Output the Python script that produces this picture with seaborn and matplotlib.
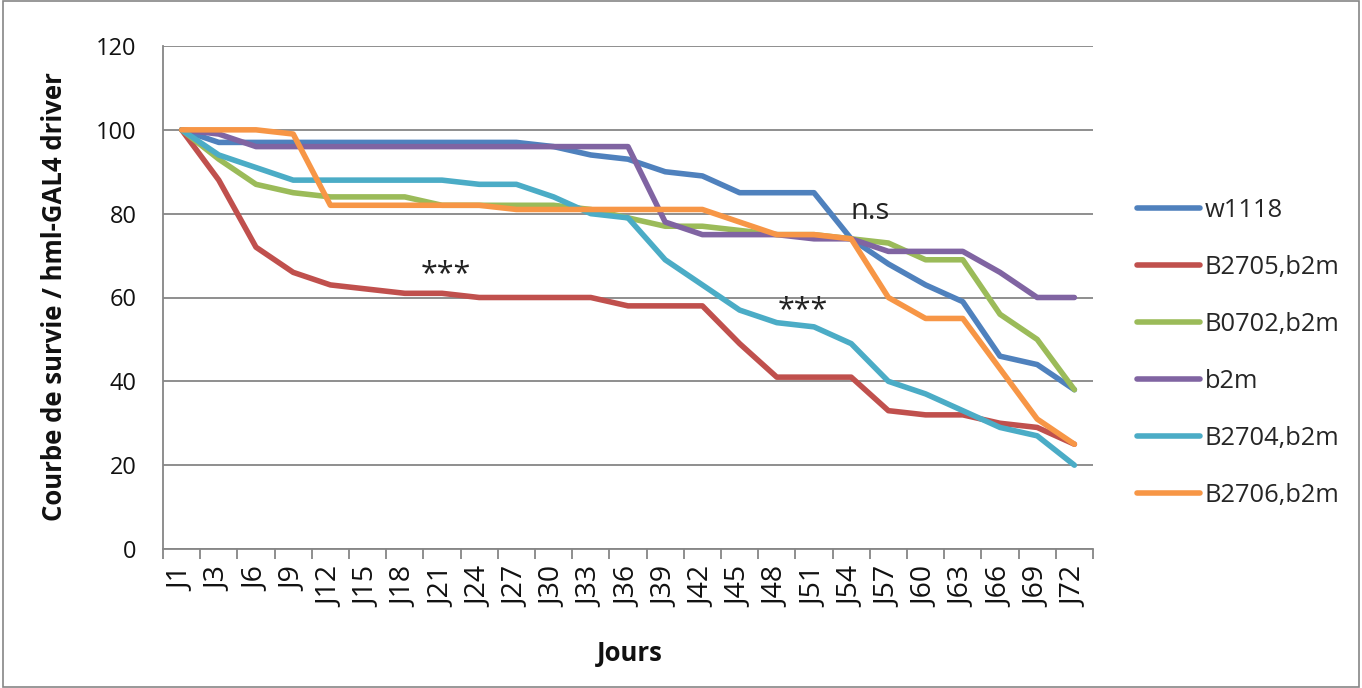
import numpy as np
import pandas as pd
import matplotlib
matplotlib.use("Agg")
import matplotlib.pyplot as plt
import seaborn as sns
from matplotlib.patches import Rectangle
from matplotlib.lines import Line2D

days = ["J1", "J3", "J6", "J9", "J12", "J15", "J18", "J21", "J24", "J27", "J30", "J33",
        "J36", "J39", "J42", "J45", "J48", "J51", "J54", "J57", "J60", "J63", "J66", "J69", "J72"]

w1118 = [100, 97, 97, 97, 97, 97, 97, 97, 97, 97, 96, 94, 93, 90, 89, 85, 85, 85, 74, 68, 63, 59, 46, 44, 38]
b2705 = [100, 88, 72, 66, 63, 62, 61, 61, 60, 60, 60, 60, 58, 58, 58, 49, 41, 41, 41, 33, 32, 32, 30, 29, 25]
b0702 = [100, 93, 87, 85, 84, 84, 84, 82, 82, 82, 82, 81, 79, 77, 77, 76, 75, 75, 74, 73, 69, 69, 56, 50, 38]
b2m = [100, 99, 96, 96, 96, 96, 96, 96, 96, 96, 96, 96, 96, 78, 75, 75, 75, 74, 74, 71, 71, 71, 66, 60, 60]
b2704 = [100, 94, 91, 88, 88, 88, 88, 88, 87, 87, 84, 80, 79, 69, 63, 57, 54, 53, 49, 40, 37, 33, 29, 27, 20]
b2706 = [100, 100, 100, 99, 82, 82, 82, 82, 82, 81, 81, 81, 81, 81, 81, 78, 75, 75, 74, 60, 55, 55, 43, 31, 25]

series_names = ["w1118", "B2705,b2m", "B0702,b2m", "b2m", "B2704,b2m", "B2706,b2m"]
series_values = [w1118, b2705, b0702, b2m, b2704, b2706]
colors = ["#4F81BD", "#C0504D", "#9BBB59", "#8064A2", "#4BACC6", "#F79646"]

rows = []
for name, vals in zip(series_names, series_values):
    for i, v in enumerate(vals):
        rows.append({"pos": i, "jour": days[i], "valeur": v, "serie": name})
df = pd.DataFrame(rows)

sns.set_style("white")
plt.rcParams["font.family"] = ["Open Sans", "DejaVu Sans"]

fig = plt.figure(figsize=(13.62, 6.88), dpi=100)
ax = fig.add_axes([163 / 1362, 1 - 549 / 688, (1093 - 163) / 1362, (549 - 46) / 688])

lw = 4.0
sns.lineplot(data=df, x="pos", y="valeur", hue="serie", hue_order=series_names,
             palette=colors, linewidth=lw, ax=ax, legend=False, sort=False)

gray = "#868686"
ax.set_xlim(-0.5, len(days) - 0.5)
ax.set_ylim(0, 120)
ax.set_yticks(np.arange(0, 121, 20))
ax.yaxis.grid(True, color=gray, linewidth=1.3)
ax.set_axisbelow(True)
ax.xaxis.grid(False)

ax.set_xticks(np.arange(len(days)))
ax.set_xticks(np.arange(-0.5, len(days), 1.0), minor=True)
ax.tick_params(axis="x", which="major", length=0, pad=13, labelsize=20.5, labelcolor="#111111")
ax.tick_params(axis="x", which="minor", length=7, color=gray, width=1.3, direction="out", bottom=True)
ax.tick_params(axis="y", length=7, color=gray, width=1.3, direction="out", labelsize=17,
               labelcolor="#111111", pad=12)
ax.set_xticklabels(days, rotation=90, fontsize=20.5, color="#111111")

for s in ["top", "right"]:
    ax.spines[s].set_visible(False)
for s in ["left", "bottom"]:
    ax.spines[s].set_color(gray)
    ax.spines[s].set_linewidth(1.3)

ax.set_xlabel("Jours", fontsize=18.5, fontweight="bold", color="#111111")
ax.set_ylabel("Courbe de survie / hml-GAL4 driver", fontsize=18.5, fontweight="bold", color="#111111")
ax.xaxis.set_label_coords((630 - 163) / 930, (549 - 640) / 503)
ax.yaxis.set_label_coords((68 - 163) / 930, (549 - 297) / 503)

ax.text(7.1, 65.5, "***", fontsize=22, ha="center", va="center", color="#222222")
ax.text(16.7, 57, "***", fontsize=22, ha="center", va="center", color="#222222")
ax.text(18.5, 80.5, "n.s", fontsize=21, ha="center", va="center", color="#222222")

handles = [Line2D([0], [0], color=c, linewidth=lw, solid_capstyle="round") for c in colors]
fig.legend(handles, series_names, loc="center left", bbox_to_anchor=(1137 / 1362, 1 - 353 / 688),
           frameon=False, fontsize=18.4, handlelength=2.45, handletextpad=0.2, labelspacing=1.25,
           borderpad=0, borderaxespad=0)

fig.patches.append(Rectangle((0.002, 0.002), 0.996, 0.996, transform=fig.transFigure,
                             fill=False, edgecolor=gray, linewidth=1.2))

fig.savefig("out.png", dpi=100, facecolor="white")
